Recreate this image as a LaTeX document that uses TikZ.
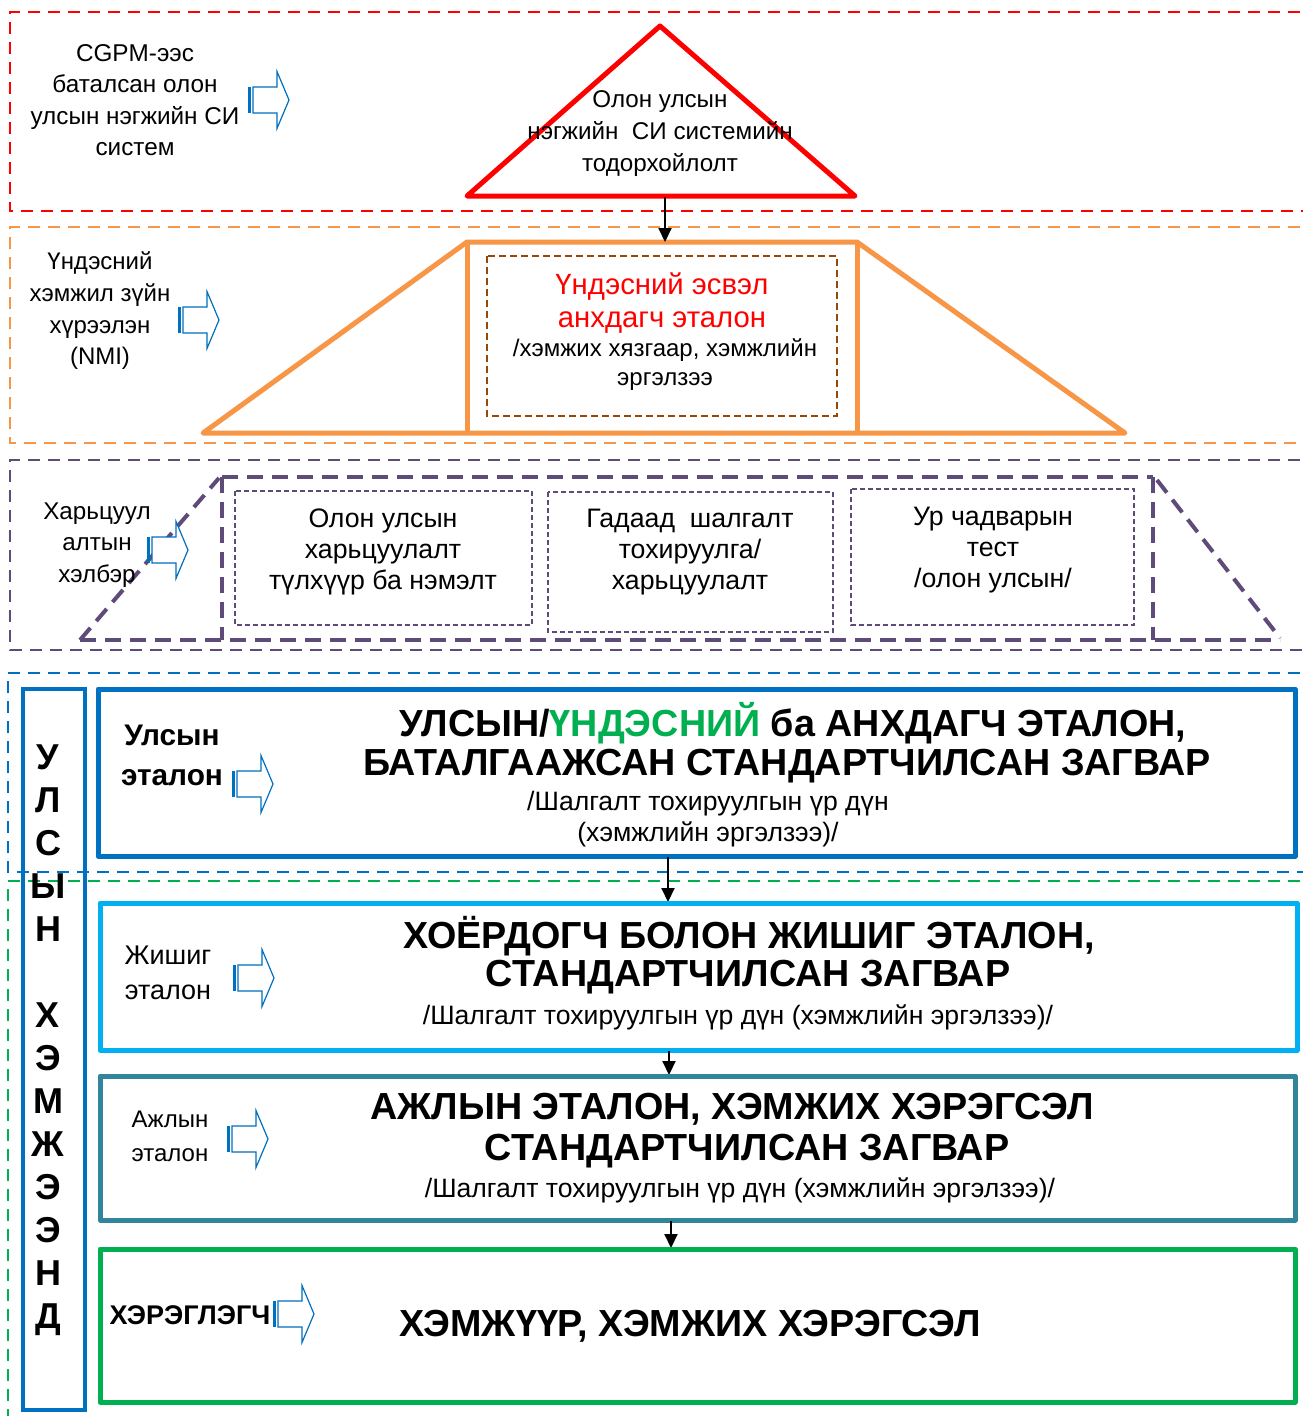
\documentclass[tikz,border=0pt]{standalone}
\usepackage{fontspec}
\setmainfont{Liberation Sans}
\usetikzlibrary{arrows.meta}
\definecolor{cred}{RGB}{255,0,0}
\definecolor{corange}{RGB}{247,150,70}
\definecolor{cbrown}{RGB}{152,72,6}
\definecolor{cpurple}{RGB}{95,75,122}
\definecolor{cblue}{RGB}{0,112,192}
\definecolor{clblue}{RGB}{0,176,240}
\definecolor{cteal}{RGB}{49,133,155}
\definecolor{cgreen}{RGB}{0,176,80}
\newcommand{\fsz}[2]{\fontsize{#1}{#2}\selectfont}
\tikzset{
  frame/.style={line width=2pt, dash pattern=on 12pt off 8pt},
  txt/.style={align=center, inner sep=0pt},
  ttl/.style={inner sep=0pt, font=\bfseries\fsz{37.7}{43}},
  sub/.style={align=center, inner sep=0pt, font=\fsz{26.6}{31}},
  tier/.style={line width=5pt, line join=round},
  conn/.style={black, line width=2pt, -{Triangle[length=14pt,width=13pt]}},
  thinbox/.style={cpurple, line width=1.3pt, dash pattern=on 5pt off 3pt},
  thickdash/.style={cpurple, line width=4pt, dash pattern=on 16pt off 9pt},
  barrow/.pic={
    \fill[cblue] (0,-13) rectangle (3,13);
    \draw[cblue, line width=1.2pt, fill=white, line join=miter]
      (5,-13) -- (29,-13) -- (29,-28.5) -- (41,0) -- (29,28.5) -- (29,13) -- (5,13) -- cycle;
  }
}
\begin{document}
\begin{tikzpicture}[x=1pt,y=-1pt]
\useasboundingbox (0,0) rectangle (1303,1416);
\fill[white] (0,0) rectangle (1303,1416);
\clip (0,0) rectangle (1303,1416);

% ---------- tier 1 (red) ----------
\draw[frame, cred] (1320,12) -- (10,12) -- (10,211) -- (1320,211);
\draw[cred, line width=5pt, line join=round] (660,26) -- (855,196) -- (467,196) -- cycle;
\node[txt, font=\fsz{24.2}{32}] (t1) at (660,134) {Олон улсын\\нэгжийн\ \ СИ системийн\\тодорхойлолт};
\node[txt, font=\fsz{24.3}{31.5}] (l1) at (135,100) {CGPM-ээс\\баталсан олон\\улсын нэгжийн СИ\\систем};
\pic at (248,100) {barrow};
\coordinate (triB) at (665,197);
\coordinate (orT) at (665,242);

% ---------- tier 2 (orange) ----------
\draw[frame, corange] (1320,227) -- (10,227) -- (10,443) -- (1320,443);
\draw[tier, corange] (203,433) -- (467,242) -- (857,242) -- (1125,433) -- cycle;
\draw[tier, corange] (467,242) -- (467,433);
\draw[tier, corange] (857,242) -- (857,433);
\draw[cbrown, line width=1.3pt, dash pattern=on 7pt off 4pt] (487,256) rectangle (837,416);
\node[txt, text=cred, font=\fsz{29.3}{33}] (nat) at (662,303) {Үндэсний эсвэл\\анхдагч эталон};
\node[txt, font=\fsz{24}{29}] (natsub) at (665,365) {/хэмжих хязгаар, хэмжлийн\\эргэлзээ};
\node[txt, font=\fsz{24}{31.7}] (l2) at (100,311) {Үндэсний\\хэмжил зүйн\\хүрээлэн\\(NMI)};
\pic at (178,320) {barrow};
\draw[conn] (triB) -- (orT);

% ---------- tier 3 (purple) ----------
\draw[frame, cpurple] (1320,460) -- (10,460) -- (10,650) -- (1320,650);
\draw[thickdash] (80,640) -- (219,478);
\draw[thickdash] (222,477) -- (1153,477);
\draw[thickdash] (222,477) -- (222,640);
\draw[thickdash] (1153,477) -- (1153,640);
\draw[thickdash] (80,640) -- (1280,640);
\draw[thickdash] (1157,480) -- (1280,638);
\draw[thinbox] (235,491) rectangle (532,625);
\draw[thinbox] (548,492) rectangle (833,632);
\draw[thinbox] (851,489) rectangle (1134,625);
\node[txt, font=\fsz{26.7}{31}] (c1) at (383,552) {Олон улсын\\харьцуулалт\\түлхүүр ба нэмэлт};
\node[txt, font=\fsz{26.7}{31}] (c2) at (690,552) {Гадаад\ \ шалгалт\\тохируулга/\\харьцуулалт};
\node[txt, font=\fsz{26.7}{31}] (c3) at (993,550) {Ур чадварын\\тест\\/олон улсын/};
\node[txt, font=\fsz{24.2}{31.5}] (l3) at (97,545) {Харьцуул\\алтын\\хэлбэр};
\pic at (147,550) {barrow};

% ---------- national section frames ----------
\draw[frame, cblue] (1320,673) -- (8,673) -- (8,872) -- (1320,872);
\draw[frame, cgreen] (1320,881) -- (8,881) -- (8,1430);
\draw[cblue, line width=4pt] (23,689) rectangle (85,1410);
\node[txt, font=\bfseries\fsz{36}{43}] (vert) at (48,1040) {У\\Л\\С\\Ы\\Н\\~\\Х\\Э\\М\\Ж\\Э\\Э\\Н\\Д};

% box A
\draw[tier, cblue] (98,689) rectangle (1295,856);
\node[ttl] (a1) at (793,723) {УЛСЫН/\textcolor{cgreen}{ҮНДЭСНИЙ} ба АНХДАГЧ ЭТАЛОН,};
\node[ttl] (a2) at (787,766) {БАТАЛГААЖСАН СТАНДАРТЧИЛСАН ЗАГВАР};
\node[sub] (a3) at (708,819) {/Шалгалт тохируулгын үр дүн\\(хэмжлийн эргэлзээ)/};
\node[txt, font=\bfseries\fsz{29.8}{40}] (la) at (172,755) {Улсын\\эталон};
\pic at (232,784) {barrow};
\coordinate (aB) at (668,857);
\coordinate (bT) at (668,902);
\draw[conn] (aB) -- (bT);

% box B
\draw[tier, clblue] (100,903) rectangle (1297,1050);
\node[ttl] (b1) at (749,936) {ХОЁРДОГЧ БОЛОН ЖИШИГ ЭТАЛОН,};
\node[ttl] (b2) at (748,977) {СТАНДАРТЧИЛСАН ЗАГВАР};
\node[sub] (b3) at (738,1017) {/Шалгалт тохируулгын үр дүн (хэмжлийн эргэлзээ)/};
\node[txt, font=\fsz{27}{35}] (lb) at (168,973) {Жишиг\\эталон};
\pic at (233,978) {barrow};
\coordinate (bB) at (669,1051);
\coordinate (cT) at (669,1075);
\draw[conn] (bB) -- (cT);

% box C
\draw[tier, cteal] (100,1076) rectangle (1295,1220);
\node[ttl] (c1t) at (732,1109) {АЖЛЫН ЭТАЛОН, ХЭМЖИХ ХЭРЭГСЭЛ};
\node[ttl] (c2t) at (747,1151) {СТАНДАРТЧИЛСАН ЗАГВАР};
\node[sub] (c3t) at (740,1190) {/Шалгалт тохируулгын үр дүн (хэмжлийн эргэлзээ)/};
\node[txt, font=\fsz{24}{34}] (lc) at (170,1136) {Ажлын\\эталон};
\pic at (227,1139) {barrow};
\coordinate (cB) at (671,1221);
\coordinate (dT) at (671,1248);
\draw[conn] (cB) -- (dT);

% box D
\draw[tier, cgreen] (100,1249) rectangle (1295,1402);
\node[ttl] (d1) at (690,1326) {ХЭМЖҮҮР, ХЭМЖИХ ХЭРЭГСЭЛ};
\node[txt, font=\bfseries\fsz{27}{30}] (ld) at (190,1315) {ХЭРЭГЛЭГЧ};
\pic at (273,1314) {barrow};
\end{tikzpicture}
\end{document}
